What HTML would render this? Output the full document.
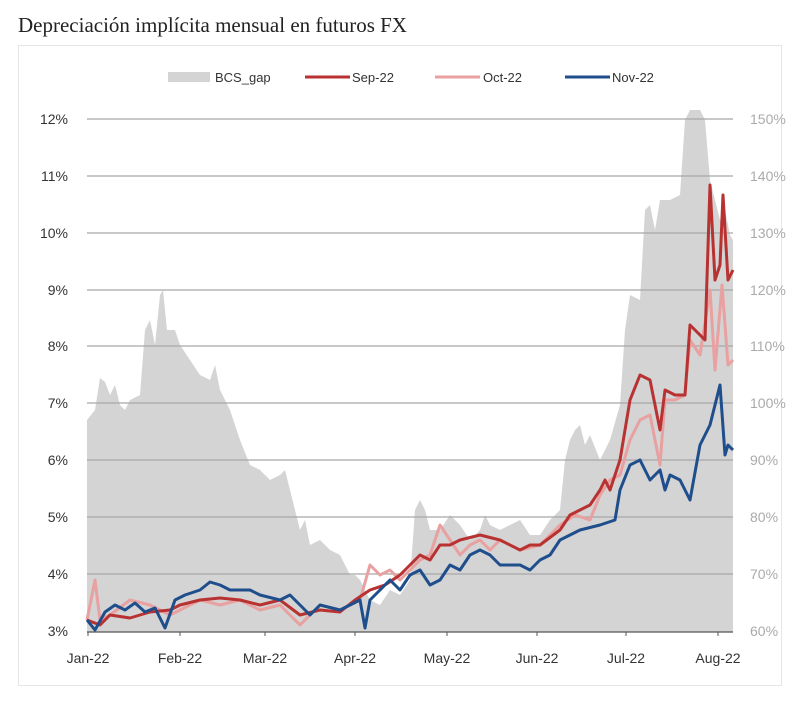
<!DOCTYPE html>
<html><head><meta charset="utf-8"><style>
body{margin:0;background:#fff;width:800px;height:713px;overflow:hidden}
svg{display:block}
</style></head><body>
<svg width="800" height="713" xmlns="http://www.w3.org/2000/svg">
<text x="18" y="32" font-family="Liberation Serif, serif" font-size="21" fill="#222">Depreciación implícita mensual en futuros FX</text>
<rect x="18.5" y="45.5" width="763" height="640" fill="#fff" stroke="#e6e6e6"/>
<g font-family="Liberation Sans, sans-serif" font-size="13" fill="#333">
<rect x="168" y="72" width="42" height="10" fill="#d4d4d4"/><text x="215" y="82">BCS_gap</text>
<line x1="305" y1="77" x2="350" y2="77" stroke="#b83232" stroke-width="3"/><text x="352" y="82">Sep-22</text>
<line x1="435" y1="77" x2="480" y2="77" stroke="#e8a0a0" stroke-width="3"/><text x="483" y="82">Oct-22</text>
<line x1="565" y1="77" x2="610" y2="77" stroke="#1f4e8c" stroke-width="3"/><text x="612" y="82">Nov-22</text>
</g>
<polygon fill="#d4d4d4" points="87,632 87,420 95,410 100,378 105,382 110,395 115,385 120,405 125,410 130,400 140,395 145,330 150,320 155,345 160,295 163,290 167,330 175,330 180,345 190,360 200,375 210,380 215,365 220,390 230,410 240,440 250,465 260,470 270,480 280,475 285,470 290,490 300,530 305,520 310,545 320,540 330,550 340,555 350,575 355,575 360,580 370,600 380,605 390,590 400,595 410,580 415,510 420,500 425,510 430,530 440,530 450,515 460,525 470,540 480,530 485,515 490,525 500,530 510,525 520,520 530,535 540,535 550,520 560,510 565,460 570,440 575,430 580,425 585,445 590,435 600,460 610,440 620,405 625,330 630,295 640,300 645,210 650,205 655,230 660,200 670,200 680,195 685,120 690,110 700,110 705,120 710,180 715,200 720,220 725,210 730,235 733,240 733,632"/>
<g stroke="#a6a6a6" stroke-width="1.3">
<line x1="87" y1="119" x2="733" y2="119"/><line x1="87" y1="176" x2="733" y2="176"/><line x1="87" y1="233" x2="733" y2="233"/><line x1="87" y1="290" x2="733" y2="290"/><line x1="87" y1="346" x2="733" y2="346"/><line x1="87" y1="403" x2="733" y2="403"/><line x1="87" y1="460" x2="733" y2="460"/><line x1="87" y1="517" x2="733" y2="517"/><line x1="87" y1="574" x2="733" y2="574"/>
</g>
<line x1="87" y1="632" x2="733" y2="632" stroke="#555" stroke-width="1.3"/>
<g stroke="#555"><line x1="88" y1="632" x2="88" y2="636"/><line x1="180" y1="632" x2="180" y2="636"/><line x1="265" y1="632" x2="265" y2="636"/><line x1="355" y1="632" x2="355" y2="636"/><line x1="447" y1="632" x2="447" y2="636"/><line x1="537" y1="632" x2="537" y2="636"/><line x1="626" y1="632" x2="626" y2="636"/><line x1="718" y1="632" x2="718" y2="636"/></g>
<g fill="none" stroke-width="3" stroke-linejoin="round">
<polyline stroke="#e8a0a0" points="87,620 95,580 100,620 110,615 130,600 150,605 170,615 180,610 200,600 220,605 240,600 260,610 280,605 300,625 320,605 340,610 360,600 370,565 380,575 390,570 400,580 420,560 430,555 440,525 450,540 460,555 470,545 480,540 490,550 500,540 520,550 540,545 560,525 575,515 590,520 600,495 610,480 620,475 630,440 640,420 650,415 660,465 665,400 675,400 685,395 690,340 700,355 710,290 715,370 722,285 728,365 733,360"/>
<polyline stroke="#b83232" points="87,620 100,625 110,615 130,618 150,612 170,610 180,605 200,600 220,598 240,600 260,605 280,600 300,615 320,610 340,612 355,600 370,590 385,585 400,575 420,555 430,560 440,545 450,545 460,540 480,535 500,540 520,550 530,545 540,545 560,530 570,515 580,510 590,505 600,490 605,480 610,490 620,460 630,400 640,375 650,380 660,430 665,390 675,395 685,395 690,325 700,335 705,340 710,185 715,280 720,265 723,195 728,280 733,270"/>
<polyline stroke="#1f4e8c" points="87,620 95,630 105,612 115,605 125,610 135,603 145,612 155,608 165,628 175,600 185,595 200,590 210,582 220,585 230,590 250,590 260,595 280,600 290,595 300,605 310,615 320,605 340,610 350,605 360,600 365,628 370,600 380,590 390,580 400,590 410,575 420,570 430,585 440,580 450,565 460,570 470,555 480,550 490,555 500,565 520,565 530,570 540,560 550,555 560,540 580,530 600,525 615,520 620,490 630,465 640,460 650,480 660,470 665,490 670,475 680,480 690,500 700,445 710,425 720,385 725,455 728,445 733,450"/>
</g>
<g font-family="Liberation Sans, sans-serif" font-size="14" fill="#333" text-anchor="end">
<text x="68" y="124">12%</text><text x="68" y="181">11%</text><text x="68" y="238">10%</text><text x="68" y="295">9%</text><text x="68" y="351">8%</text><text x="68" y="408">7%</text><text x="68" y="465">6%</text><text x="68" y="522">5%</text><text x="68" y="579">4%</text><text x="68" y="636">3%</text>
</g>
<g font-family="Liberation Sans, sans-serif" font-size="14" fill="#aaa">
<text x="750" y="124">150%</text><text x="750" y="181">140%</text><text x="750" y="238">130%</text><text x="750" y="295">120%</text><text x="750" y="351">110%</text><text x="750" y="408">100%</text><text x="750" y="465">90%</text><text x="750" y="522">80%</text><text x="750" y="579">70%</text><text x="750" y="636">60%</text>
</g>
<g font-family="Liberation Sans, sans-serif" font-size="14" fill="#333" text-anchor="middle">
<text x="88" y="663">Jan-22</text><text x="180" y="663">Feb-22</text><text x="265" y="663">Mar-22</text><text x="355" y="663">Apr-22</text><text x="447" y="663">May-22</text><text x="537" y="663">Jun-22</text><text x="626" y="663">Jul-22</text><text x="718" y="663">Aug-22</text>
</g>
</svg>
</body></html>
